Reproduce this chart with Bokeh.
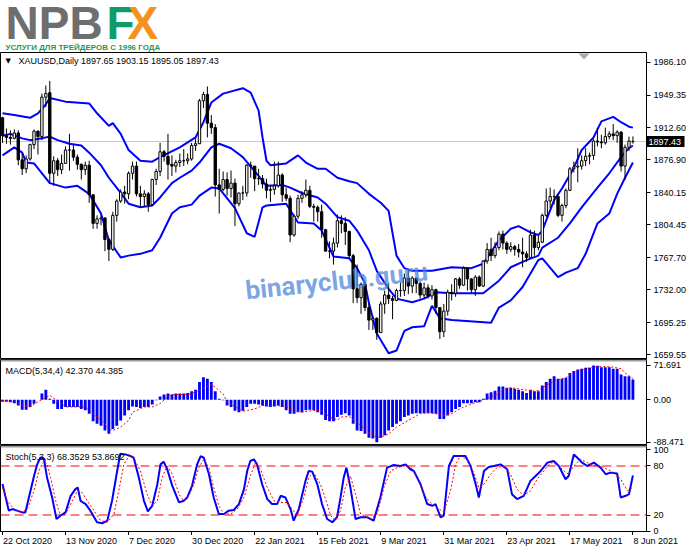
from bokeh.plotting import figure
from bokeh.models import (Range1d, FixedTicker, NumeralTickFormatter, Label, ColumnDataSource,
                          Span, PolyAnnotation, BoxAnnotation, LinearAxis)
from bokeh.layouts import column
from bokeh.embed import file_html
from bokeh.resources import INLINE
from bokeh.core.properties import value

# ---------------- data (XAUUSD daily) ----------------
tick_bars = [0, 16, 32, 48, 64, 80, 96, 112, 128, 144, 160]
tick_labels = ["22 Oct 2020", "13 Nov 2020", "7 Dec 2020", "30 Dec 2020", "22 Jan 2021",
               "15 Feb 2021", "9 Mar 2021", "31 Mar 2021", "23 Apr 2021", "17 May 2021",
               "8 Jun 2021"]

opens = [1924, 1904, 1902, 1901, 1907, 1877, 1867, 1878, 1894, 1909,
         1903, 1947, 1952, 1862, 1876, 1866, 1873, 1888, 1888, 1880,
         1872, 1866, 1871, 1838, 1806, 1811, 1812, 1788, 1777, 1815,
         1831, 1841, 1839, 1862, 1870, 1839, 1836, 1839, 1827, 1855,
         1864, 1886, 1881, 1872, 1870, 1874, 1876, 1876, 1878, 1893,
         1895, 1943, 1950, 1918, 1913, 1849, 1844, 1855, 1845, 1851,
         1828, 1840, 1840, 1871, 1870, 1856, 1856, 1850, 1843, 1844,
         1848, 1860, 1838, 1834, 1793, 1814, 1834, 1838, 1843, 1825,
         1824, 1819, 1799, 1775, 1775, 1784, 1809, 1806, 1797, 1770,
         1733, 1723, 1738, 1712, 1698, 1700, 1684, 1716, 1726, 1722,
         1720, 1731, 1731, 1745, 1736, 1745, 1739, 1726, 1734, 1725,
         1732, 1712, 1685, 1708, 1729, 1728, 1744, 1737, 1756, 1744,
         1732, 1746, 1736, 1764, 1777, 1770, 1779, 1794, 1784, 1777,
         1780, 1777, 1774, 1772, 1768, 1793, 1779, 1785, 1815, 1831,
         1836, 1836, 1815, 1826, 1843, 1867, 1869, 1870, 1876, 1881,
         1882, 1898, 1897, 1896, 1903, 1906, 1904, 1908, 1870, 1891,
         1897.65]
highs = [1925, 1912, 1910, 1911, 1910, 1884, 1882, 1895, 1911, 1910,
         1951, 1960, 1965, 1881, 1879, 1883, 1892, 1906, 1894, 1883,
         1873, 1875, 1876, 1838, 1815, 1815, 1813, 1790, 1819, 1833,
         1844, 1848, 1864, 1875, 1875, 1848, 1843, 1841, 1856, 1867,
         1896, 1888, 1906, 1882, 1877, 1884, 1889, 1884, 1896, 1901,
         1945, 1953, 1959, 1927, 1917, 1867, 1864, 1863, 1865, 1856,
         1840, 1848, 1872, 1875, 1870, 1867, 1860, 1856, 1848, 1875,
         1875, 1862, 1846, 1837, 1816, 1838, 1842, 1855, 1848, 1828,
         1826, 1827, 1800, 1786, 1790, 1816, 1815, 1813, 1798, 1772,
         1760, 1740, 1739, 1716, 1702, 1701, 1719, 1731, 1739, 1725,
         1733, 1740, 1750, 1755, 1747, 1745, 1741, 1740, 1738, 1737,
         1733, 1712, 1716, 1732, 1738, 1745, 1746, 1758, 1756, 1745,
         1748, 1748, 1765, 1784, 1790, 1785, 1797, 1798, 1786, 1785,
         1782, 1783, 1790, 1775, 1799, 1798, 1792, 1817, 1845, 1846,
         1844, 1839, 1828, 1845, 1869, 1875, 1890, 1882, 1890, 1885,
         1900, 1913, 1905, 1913, 1909, 1917, 1910, 1909, 1894, 1903,
         1903.15]
lows = [1896, 1895, 1894, 1900, 1871, 1860, 1862, 1876, 1889, 1883,
        1899, 1936, 1850, 1848, 1859, 1861, 1873, 1865, 1876, 1866,
        1855, 1860, 1829, 1800, 1800, 1804, 1775, 1764, 1775, 1808,
        1829, 1828, 1833, 1855, 1836, 1824, 1825, 1819, 1826, 1849,
        1859, 1875, 1855, 1859, 1863, 1869, 1870, 1872, 1876, 1887,
        1895, 1935, 1902, 1906, 1836, 1817, 1842, 1837, 1835, 1803,
        1825, 1832, 1836, 1857, 1842, 1849, 1845, 1834, 1830, 1838,
        1846, 1830, 1831, 1785, 1791, 1811, 1829, 1835, 1823, 1808,
        1808, 1790, 1775, 1767, 1760, 1779, 1795, 1782, 1767, 1717,
        1717, 1705, 1708, 1687, 1687, 1676, 1684, 1705, 1716, 1699,
        1719, 1724, 1725, 1727, 1728, 1728, 1722, 1722, 1722, 1721,
        1705, 1677, 1679, 1703, 1720, 1724, 1733, 1736, 1731, 1728,
        1725, 1735, 1735, 1761, 1764, 1767, 1776, 1777, 1772, 1774,
        1770, 1768, 1757, 1763, 1768, 1770, 1776, 1784, 1813, 1823,
        1827, 1813, 1808, 1823, 1842, 1863, 1852, 1866, 1870, 1872,
        1877, 1892, 1890, 1894, 1900, 1899, 1896, 1864, 1855, 1887,
        1895.05]
closes = [1904, 1902, 1901, 1907, 1877, 1867, 1878, 1894, 1909, 1903,
          1947, 1951, 1862, 1876, 1866, 1873, 1888, 1888, 1880, 1872,
          1866, 1871, 1838, 1806, 1811, 1812, 1788, 1777, 1815, 1831,
          1841, 1839, 1862, 1870, 1839, 1836, 1839, 1827, 1855, 1864,
          1886, 1881, 1872, 1870, 1874, 1876, 1876, 1878, 1893, 1895,
          1943, 1950, 1918, 1913, 1849, 1844, 1855, 1845, 1851, 1828,
          1840, 1840, 1871, 1870, 1856, 1856, 1850, 1843, 1844, 1848,
          1860, 1838, 1834, 1793, 1814, 1834, 1838, 1843, 1825, 1824,
          1819, 1799, 1775, 1775, 1784, 1809, 1806, 1797, 1770, 1733,
          1723, 1738, 1712, 1698, 1700, 1684, 1716, 1726, 1722, 1720,
          1731, 1731, 1745, 1736, 1745, 1739, 1726, 1734, 1725, 1732,
          1712, 1685, 1708, 1729, 1728, 1744, 1737, 1756, 1744, 1732,
          1746, 1736, 1764, 1777, 1770, 1779, 1794, 1784, 1777, 1780,
          1777, 1774, 1772, 1768, 1793, 1779, 1785, 1815, 1831, 1836,
          1836, 1815, 1826, 1843, 1867, 1869, 1870, 1876, 1881, 1882,
          1898, 1897, 1896, 1903, 1906, 1904, 1908, 1870, 1891, 1898,
          1897.43]

# Bollinger bands (20, 2)
bb_up_bar = [0, 3, 7, 9, 11, 12, 16, 22, 24, 27, 28, 30, 32, 35, 38, 40, 45, 49, 51, 53,
             56, 61, 63, 65, 66, 67, 68, 72, 75, 77, 80, 82, 85, 88, 90, 93, 96, 98, 99, 100,
             102, 104, 109, 114, 119, 122, 126, 129, 131, 134, 136, 137, 140, 142, 145, 147,
             150, 152, 155, 157, 159, 160]
bb_up = [1929, 1927, 1924, 1929, 1939, 1946, 1942, 1940, 1929, 1915, 1918, 1906, 1888, 1876,
         1875, 1880, 1891, 1902, 1919, 1941, 1951, 1957, 1952, 1932, 1902, 1876, 1871, 1873,
         1882, 1874, 1867, 1867, 1857, 1853, 1851, 1839, 1829, 1820, 1795, 1770, 1756, 1753,
         1753, 1757, 1756, 1761, 1787, 1800, 1803, 1796, 1793, 1798, 1832, 1845, 1868, 1888,
         1902, 1920, 1925, 1919, 1914, 1913]
bb_mid_bar = [0, 2, 5, 7, 10, 12, 14, 17, 20, 22, 25, 27, 30, 32, 35, 38, 40, 43, 45, 48,
              50, 53, 55, 58, 61, 65, 67, 71, 73, 76, 80, 82, 85, 88, 90, 93, 95, 98, 100, 104,
              107, 110, 114, 122, 126, 129, 133, 136, 137, 141, 144, 147, 151, 154, 157, 159, 160]
bb_mid = [1904, 1906, 1901, 1899, 1901, 1903, 1899, 1895, 1893, 1885, 1871, 1857, 1840, 1828,
          1824, 1826, 1835, 1851, 1857, 1865, 1874, 1891, 1895, 1890, 1880, 1859, 1848, 1849,
          1846, 1840, 1835, 1828, 1813, 1809, 1798, 1776, 1753, 1733, 1722, 1718, 1722, 1729,
          1728, 1728, 1742, 1757, 1765, 1770, 1779, 1790, 1806, 1824, 1846, 1862, 1880, 1890, 1893]
bb_low_bar = [0, 3, 5, 6, 8, 12, 16, 19, 22, 25, 27, 30, 32, 35, 38, 40, 43, 45, 48, 50,
              53, 55, 59, 62, 64, 66, 67, 72, 75, 79, 81, 84, 88, 90, 92, 93, 95, 98, 100, 102,
              104, 107, 109, 111, 114, 124, 126, 129, 132, 136, 137, 141, 143, 146, 148, 151,
              154, 156, 158, 160]
bb_low = [1882, 1891, 1885, 1874, 1873, 1851, 1846, 1848, 1839, 1817, 1787, 1768, 1770, 1772,
          1776, 1790, 1817, 1824, 1827, 1837, 1846, 1845, 1823, 1795, 1791, 1824, 1826, 1828,
          1807, 1806, 1798, 1769, 1767, 1756, 1739, 1717, 1683, 1661, 1664, 1686, 1690, 1691,
          1714, 1700, 1698, 1695, 1712, 1720, 1735, 1765, 1767, 1746, 1751, 1756, 1772, 1806,
          1817, 1839, 1857, 1874]

price_ticks = [1659.55, 1695.25, 1732.00, 1767.70, 1804.45, 1840.15, 1876.90, 1912.60,
               1949.35, 1986.10]
last_price = 1897.43

# MACD(5,34,4) histogram and signal
macd_hist = [-4, -4, -5, -7, -12, -21, -21, -15, -8, 0,
             13, 21, 2, -8, -19, -19, -15, -15, -15, -15,
             -19, -22, -29, -45, -50, -54, -64, -71, -61, -54,
             -43, -33, -22, -14, -15, -17, -15, -15, -10, -1,
             7, 11, 13, 11, 13, 13, 13, 14, 18, 21,
             37, 47, 44, 37, 18, 2, -1, -12, -15, -23,
             -26, -23, -15, -8, -8, -10, -12, -14, -15, -14,
             -12, -15, -22, -29, -29, -26, -26, -22, -21, -22,
             -26, -31, -42, -45, -45, -36, -31, -28, -33, -50,
             -64, -65, -71, -79, -81, -88.471, -79, -74, -64, -57,
             -50, -45, -36, -33, -29, -28, -28, -28, -28, -28,
             -29, -40, -40, -33, -26, -19, -15, -7, -7, -7,
             -5, -5, 2, 13, 16, 19, 28, 28, 25, 25,
             23, 21, 18, 14, 21, 18, 18, 30, 37, 44,
             49, 44, 44, 46, 56, 60, 63, 65, 67, 67,
             71.691, 71, 68, 68, 68, 65, 65, 53, 49, 49,
             42.37]
macd_sig_bar = [0, 3, 5, 7, 9, 12, 15, 16, 21, 22, 24, 26, 27, 28, 30, 32, 33, 36, 38, 40,
                42, 43, 47, 49, 53, 54, 56, 57, 60, 61, 64, 66, 70, 72, 75, 76, 79, 81, 83, 85,
                86, 88, 90, 92, 93, 95, 96, 98, 100, 103, 106, 108, 110, 112, 114, 116, 118, 120,
                121, 123, 125, 127, 129, 131, 133, 135, 136, 138, 140, 142, 143, 145, 148, 150,
                153, 155, 157, 158, 160]
macd_sig = [-1, -4, -12, -15, -4, 9, -8, -15, -15, -22, -36, -50, -61, -64, -57, -43, -26, -15,
            -15, -8, 7, 11, 11, 16, 32, 26, 12, -4, -19, -24, -19, -12, -12, -15, -24, -26, -22,
            -22, -36, -42, -36, -35, -47, -61, -68, -78, -78, -71, -57, -43, -29, -27, -29, -33,
            -29, -19, -12, -6, -4, 3, 9, 21, 25, 23, 20, 18, 19.5, 30, 39, 44, 46, 58, 65, 68,
            69.5, 68, 65, 56, 44.385]
macd_ticks = [-88.471, 0, 71.691]

# Stochastic(5,3,3): main and signal lines
st_main_bar = [0, 1.6, 2.5, 3.7, 5, 5.8, 6.7, 8, 8.8, 9.6, 10.5, 11.3, 12.6, 13.7, 14.7, 16,
               17.3, 18.5, 19.1, 19.8, 21.1, 22.3, 24, 25.3, 26.6, 27.8, 29.1, 29.9, 31.2, 32.5,
               33.3, 34.6, 35.9, 36.9, 38, 39.3, 40.1, 40.9, 41.8, 43.1, 44.8, 46, 46.9, 48.1,
               49.4, 50.3, 51.1, 52.4, 53.6, 54.9, 56.2, 57.4, 58.7, 60, 61.3, 62.1, 62.9, 63.8,
               64.6, 65.9, 67.2, 68.4, 69.7, 70.6, 71.8, 73.1, 73.9, 75.2, 76.9, 77.7, 78.6, 79.9,
               81.1, 82.4, 83.7, 84.9, 85.8, 86.6, 87.3, 88.3, 89.6, 90.9, 92.6, 94.2, 95.9, 97.6,
               99.3, 101, 102.3, 103.5, 104.4, 106.1, 107.8, 109.1, 109.9, 111.2, 112, 113.3,
               114.5, 116.2, 117.5, 118.8, 120.1, 120.9, 122.2, 123.4, 124.7, 126.4, 128.1,
               129.3, 130.6, 132.3, 134, 135.3, 136.6, 138.3, 139.9, 141.2, 142.9, 143.7, 145,
               145.9, 147.1, 148.4, 150.1, 151.8, 153.1, 154.3, 156, 156.9, 158.2, 159, 160]
st_main = [58, 25.3, 27.3, 25.3, 23.2, 23.2, 41.5, 67.8, 82, 90.1, 89.3, 65.8, 41.5, 15.1, 19.2,
           23.2, 43.5, 51.6, 53.6, 37.4, 33.4, 25.3, 11.1, 9.8, 13.1, 37.4, 73.9, 95, 94.2, 92.2,
           90.1, 65.8, 37.4, 24.4, 31.3, 57.7, 82, 85.3, 76, 55.7, 35.4, 37.4, 41.5, 55.7, 82,
           92.2, 90.1, 69.9, 41.5, 21.2, 21.2, 25.3, 26.1, 33.4, 51.6, 73.9, 86.1, 88.1, 82,
           57.7, 39.5, 33.4, 33.4, 43.5, 41.5, 27.3, 13.1, 27.3, 61.8, 73.9, 73.1, 57.7, 33.4,
           15.1, 11.1, 17.2, 41.5, 65.8, 78, 53.6, 15.1, 17.2, 17.2, 13.1, 41.5, 78, 81.2, 80,
           82, 76, 73.9, 57.7, 33.4, 31.3, 33.4, 17.2, 19.2, 80, 92.2, 92.2, 92.2, 80, 57.7,
           41.5, 73.9, 78.8, 80, 82, 76, 45.5, 39.5, 43.5, 61.8, 67.8, 73.9, 84.1, 86.1, 80,
           63.8, 67.8, 94.2, 90.1, 84.1, 80, 84.1, 78, 69.9, 71.9, 70.7, 41.5, 43.5, 45.5, 68.35]
st_sig_bar = [0, 1.2, 2.9, 4.6, 6.3, 8, 9.2, 10.5, 11.3, 12.2, 13.5, 14.7, 16, 17.3, 19, 20.2,
              21.5, 23.2, 24.9, 26.6, 28.3, 29.5, 30.8, 32.1, 33.3, 35, 36.7, 38, 39.3, 40.5,
              41.8, 43.1, 44.8, 46, 47.3, 48.6, 49.8, 51.1, 52.4, 53.6, 54.9, 56.2, 57.9, 59.6,
              61.3, 62.9, 64.2, 65.5, 67.2, 68.9, 70.6, 72.2, 73.5, 74.8, 76.5, 77.7, 79, 80.7,
              82, 83.3, 84.5, 85.8, 87, 88.3, 89.6, 90.9, 93.4, 95.1, 96.8, 98.5, 100.2, 101.9,
              103.6, 105.3, 106.9, 108.6, 110.3, 112, 113.7, 115, 116.2, 117.9, 119.6, 120.9,
              122.2, 123.9, 125.5, 127.2, 128.9, 130.6, 132.3, 134, 135.7, 137.4, 139.1, 140.8,
              142.5, 143.7, 145, 146.7, 148.4, 150.1, 151.8, 153.5, 155.2, 156.9, 158.6, 160]
st_sig = [53.6, 37.4, 27.3, 23.2, 27.3, 49.6, 73.9, 86.1, 82, 65.8, 37.4, 19.2, 21.2, 33.4,
          49.6, 47.6, 37.4, 25.3, 13.1, 11.1, 21.2, 49.6, 82, 92.2, 90.1, 73.9, 45.5, 31.3,
          37.4, 65.8, 80, 69.9, 45.5, 37.4, 43.5, 57.7, 78, 88.1, 78, 53.6, 31.3, 21.2, 21.2,
          27.3, 41.5, 68, 84.1, 76, 53.6, 37.4, 35.4, 35.4, 27.3, 19.2, 41.5, 65.8, 71.9, 57.7,
          39.5, 19.2, 13.1, 25.3, 53.6, 67.8, 45.5, 21.2, 15.1, 21.2, 53.6, 73.9, 78, 80, 78.8,
          65.8, 45.5, 35.4, 29.3, 23.2, 49.6, 82, 92.2, 88.1, 71.9, 53.6, 57.7, 69.9, 78, 80,
          69.9, 51.6, 43.5, 49.6, 63.8, 73.9, 84.1, 82, 73.9, 69.9, 80, 88.1, 84.1, 80, 80, 76,
          71.9, 63.8, 49.6, 53.87]
st_levels = [20, 80]
st_ticks = [0, 20, 80, 100]

# ---------------- layout constants ----------------
W = 691
RB = 45
FONT = "Liberation Sans"
BAR_PX = 3.94
x_range = Range1d(-0.508, 163.45)


def no_frame_align(p):
    if "frame_align" in p.properties():
        p.frame_align = False


def style_axis(ax, label_color="black"):
    ax.axis_line_color = "black"
    ax.major_tick_line_color = "black"
    ax.major_tick_in = 0
    ax.major_tick_out = 4
    ax.minor_tick_line_color = None
    ax.major_label_text_font = FONT
    ax.major_label_text_font_size = "9px"
    ax.major_label_text_color = label_color
    ax.major_label_standoff = 3
    return ax


def panel(height, y_range, top, bottom, below=None):
    p = figure(width=W, height=height, x_range=x_range, y_range=y_range,
               x_axis_location=below, y_axis_location="right", toolbar_location=None,
               output_backend="svg", min_border_left=0, min_border_right=RB,
               min_border_top=top, min_border_bottom=bottom, title=None)
    p.xgrid.visible = False
    p.ygrid.visible = False
    p.outline_line_color = "black"
    p.outline_line_width = 1
    p.background_fill_color = "white"
    p.border_fill_color = "white"
    return p


def plain(height, x_range_, y_range_):
    p = figure(width=W, height=height, x_range=x_range_, y_range=y_range_,
               x_axis_location=None, y_axis_location=None, toolbar_location=None,
               output_backend="svg", min_border=0, title=None)
    p.outline_line_color = None
    p.xgrid.visible = False
    p.ygrid.visible = False
    no_frame_align(p)
    return p


# ---------------- logo strip ----------------
logo = plain(52, Range1d(0, W), Range1d(0, 52))
for txt, x, col in [("NPB", 5, "#6e6e6e"), ("F", 106, "#0f9c6b"), ("X", 127, "#f5921e")]:
    logo.add_layout(Label(x=x, y=29.5, x_units="screen", y_units="screen", text=txt,
                          text_font=FONT, text_font_style="bold", text_font_size="46px",
                          text_color=col, text_baseline="middle"))
logo.add_layout(Label(x=5, y=5.5, x_units="screen", y_units="screen",
                      text="УСЛУГИ ДЛЯ ТРЕЙДЕРОВ С 1996 ГОДА",
                      text_font=FONT, text_font_style="bold", text_font_size="8px",
                      text_color="#1d9b50", text_baseline="middle"))

# ---------------- main price chart ----------------
main = panel(307, Range1d(1655.1, 1996.9), 0, 1)
# inner right axis: small ticks (minor) at the price levels + black box and white text
inner = style_axis(main.yaxis[0], label_color="white")
inner.ticker = FixedTicker(ticks=[last_price], minor_ticks=price_ticks)
inner.major_label_overrides = {last_price: "1897.43"}
inner.major_tick_line_color = "black"
inner.major_tick_line_width = 11
inner.major_tick_out = 38
inner.major_label_standoff = -36
inner.minor_tick_line_color = "black"
inner.minor_tick_line_width = 1
inner.minor_tick_in = 0
inner.minor_tick_out = 4
# outer right axis: the price labels, pulled back next to the frame
outer = LinearAxis(ticker=FixedTicker(ticks=price_ticks),
                   formatter=NumeralTickFormatter(format="0.00"))
style_axis(outer)
outer.axis_line_color = None
outer.major_tick_line_color = None
outer.major_tick_out = 0
outer.major_label_standoff = -31
main.add_layout(outer, "right")

main.add_layout(Span(location=last_price, dimension="width", line_color="#c8c8c8",
                     line_width=1, level="underlay"))

src = ColumnDataSource(dict(
    bar=list(range(len(closes))), open=opens, high=highs, low=lows, close=closes,
    top=[max(o, c) for o, c in zip(opens, closes)],
    bottom=[min(o, c) for o, c in zip(opens, closes)],
    fill=["white" if c >= o else "black" for o, c in zip(opens, closes)]))

main.line(bb_up_bar, bb_up, line_color="#0000ff", line_width=2)
main.line(bb_mid_bar, bb_mid, line_color="#0000ff", line_width=2)
main.line(bb_low_bar, bb_low, line_color="#0000ff", line_width=2)
main.segment(x0="bar", y0="low", x1="bar", y1="high", line_color="black", line_width=1,
             source=src)
main.vbar(x="bar", width=0.6, top="top", bottom="bottom", fill_color="fill",
          line_color="black", line_width=1, source=src)

main.add_layout(Label(x=5, y=298, x_units="screen", y_units="screen", text="▼",
                      text_font="DejaVu Sans", text_font_size="7px", text_color="black",
                      text_baseline="middle"))
main.add_layout(Label(x=18, y=298, x_units="screen", y_units="screen",
                      text="XAUUSD,Daily  1897.65 1903.15 1895.05 1897.43",
                      text_font=FONT, text_font_size="9px", text_color="black",
                      text_baseline="middle"))
main.add_layout(Label(x=245, y=68, x_units="screen", y_units="screen", text="binaryclub.guru",
                      angle=0.105, text_font="Roboto", text_font_style="bold",
                      text_font_size="26px", text_color="#4a83da", text_alpha=0.72,
                      text_baseline="alphabetic"))
main.add_layout(PolyAnnotation(xs=[578, 589, 583.5], ys=[305, 305, 299], xs_units="screen",
                               ys_units="screen", fill_color="#a8a8a8", fill_alpha=1,
                               line_color=None))

# ---------------- MACD ----------------
macd = panel(86, Range1d(-93.3, 84.1), 0, 1)
ax = style_axis(macd.yaxis[0])
ax.ticker = FixedTicker(ticks=macd_ticks)
ax.major_label_overrides = {-88.471: "-88.471", 0: "0.00", 71.691: "71.691"}
macd.add_layout(BoxAnnotation(bottom=80.0, top=84.1, fill_color="#9c9c9c", fill_alpha=1,
                              line_color=None))
macd.vbar(x=list(range(len(macd_hist))), top=macd_hist, bottom=0, width=0.72,
          fill_color="#0000ff", line_color=None)
macd.line(macd_sig_bar, macd_sig, line_color="#ff0000", line_dash="2 2", line_width=1)
macd.add_layout(Label(x=5, y=74, x_units="screen", y_units="screen",
                      text="MACD(5,34,4) 42.370 44.385", text_font=FONT,
                      text_font_size="9px", text_color="black", text_baseline="middle"))

# ---------------- Stochastic ----------------
st = panel(90, Range1d(-0.2, 105.1), 0, 4, below="below")
ax = style_axis(st.yaxis[0])
ax.ticker = FixedTicker(ticks=st_ticks)
xa = style_axis(st.xaxis[0])
xa.ticker = FixedTicker(ticks=tick_bars)
xa.major_label_overrides = {b: "" for b in tick_bars}
xa.major_label_text_font_size = "0px"
xa.major_label_standoff = 0
st.add_layout(BoxAnnotation(bottom=102.65, top=105.1, fill_color="#9c9c9c", fill_alpha=1,
                            line_color=None))
# level lines 20 / 80 across the whole panel
st.segment(x0=x_range.start, x1=x_range.end, y0=st_levels, y1=st_levels,
           line_color="#ff0000", line_dash="9 5", line_width=1)
st.line(st_main_bar, st_main, line_color="#0000ff", line_width=2)
st.line(st_sig_bar, st_sig, line_color="#ff0000", line_dash="2 2", line_width=1)
st.add_layout(Label(x=5, y=75, x_units="screen", y_units="screen",
                    text="Stoch(5,3,3) 68.3529 53.8692", text_font=FONT,
                    text_font_size="9px", text_color="black", text_baseline="middle"))

# ---------------- date labels strip (same bar scale, left-aligned at the ticks) ------
dates = plain(14, Range1d(-0.508, -0.508 + W / BAR_PX), Range1d(0, 14))
dates.text(x="bar", y=8.5, text="label",
           source=ColumnDataSource(dict(bar=tick_bars, label=tick_labels)),
           text_align="left", text_baseline="middle", x_offset=0.5,
           text_font=value(FONT), text_font_size=value("9px"), text_color="black")

layout = column(logo, main, macd, st, dates)
open("out.html", "w").write(file_html(layout, INLINE))
